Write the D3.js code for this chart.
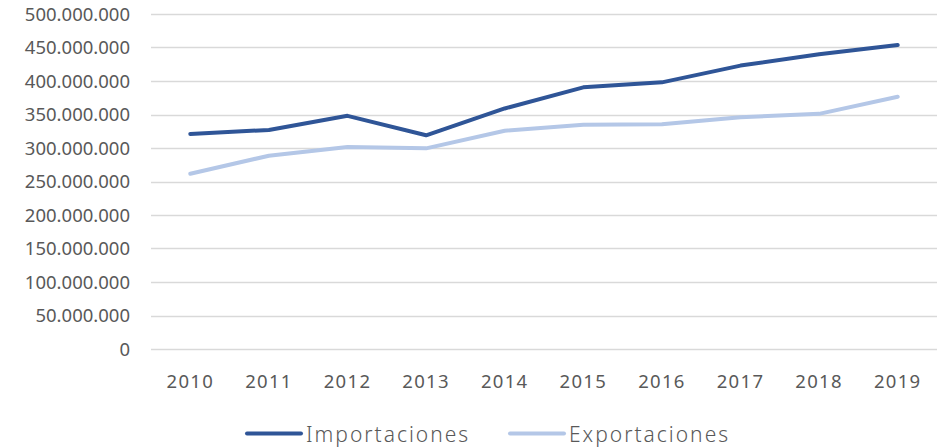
<!DOCTYPE html>
<html>
<head>
<meta charset="utf-8">
<script src="https://cdn.jsdelivr.net/npm/d3@7"></script>
<style>
  body { margin: 0; background: #fff; }
  svg { display: block; }
</style>
</head>
<body>
<svg id="chart"></svg>
<script>
// data
const years = ["2010", "2011", "2012", "2013", "2014", "2015", "2016", "2017", "2018", "2019"];
const importaciones = [321000000, 327000000, 348000000, 319000000, 359000000, 390500000, 398000000, 423000000, 440000000, 453700000];
const exportaciones = [261600000, 288500000, 301500000, 299500000, 325800000, 334800000, 335300000, 345800000, 351000000, 376600000];
const yTicks = [0, 50000000, 100000000, 150000000, 200000000, 250000000, 300000000, 350000000, 400000000, 450000000, 500000000];

const width = 945, height = 448;
const margin = {top: 14, right: 8, bottom: 99, left: 151};

const svg = d3.select("#chart")
    .attr("width", width)
    .attr("height", height);

const x = d3.scaleBand()
    .domain(years)
    .range([margin.left, width - margin.right]);

const y = d3.scaleLinear()
    .domain([0, 500000000])
    .range([height - margin.bottom, margin.top]);

const fmt = d => d3.format(",")(d).replace(/,/g, ".");

// gridlines
svg.append("g")
    .selectAll("line")
    .data(yTicks)
    .join("line")
    .attr("x1", margin.left)
    .attr("x2", width - margin.right)
    .attr("y1", d => Math.round(y(d)) + 0.5)
    .attr("y2", d => Math.round(y(d)) + 0.5)
    .attr("stroke", "#d9d9d9")
    .attr("stroke-width", 1.3);

// y labels
svg.append("g")
    .selectAll("text")
    .data(yTicks)
    .join("text")
    .attr("x", 130)
    .attr("y", d => y(d))
    .attr("dy", "0.36em")
    .attr("text-anchor", "end")
    .attr("fill", "#595959")
    .style("font-family", "Noto Sans, sans-serif")
    .style("font-size", "18.5px")
    .text(fmt);

// x labels
svg.append("g")
    .selectAll("text")
    .data(years)
    .join("text")
    .attr("x", d => x(d) + x.bandwidth() / 2)
    .attr("y", 388)
    .attr("text-anchor", "middle")
    .attr("fill", "#595959")
    .style("font-family", "Noto Sans, sans-serif")
    .style("font-size", "18.5px")
    .style("letter-spacing", "1.3px")
    .text(d => d);

const series = [
    {name: "Importaciones", values: importaciones, color: "#2f5597"},
    {name: "Exportaciones", values: exportaciones, color: "#b4c7e7"}
];

const line = d3.line()
    .x((d, i) => x(years[i]) + x.bandwidth() / 2)
    .y(d => y(d));

// draw exports first so imports sits on top
svg.append("g")
    .selectAll("path")
    .data(series.slice().reverse())
    .join("path")
    .attr("d", d => line(d.values))
    .attr("fill", "none")
    .attr("stroke", d => d.color)
    .attr("stroke-width", 4)
    .attr("stroke-linejoin", "round")
    .attr("stroke-linecap", "round");

// legend
const legendX = [247, 510];
const legend = svg.append("g")
    .selectAll("g")
    .data(series)
    .join("g")
    .attr("transform", (d, i) => `translate(${legendX[i]},433.5)`);

legend.append("line")
    .attr("x1", 0)
    .attr("x2", 54)
    .attr("stroke", d => d.color)
    .attr("stroke-width", 4)
    .attr("stroke-linecap", "round");

legend.append("text")
    .attr("x", 59)
    .attr("y", 8)
    .attr("fill", "#595959")
    .style("font-family", "Noto Sans, sans-serif")
    .style("font-size", "21px")
    .style("font-weight", 300)
    .style("letter-spacing", "2px")
    .text(d => d.name);
</script>
</body>
</html>
